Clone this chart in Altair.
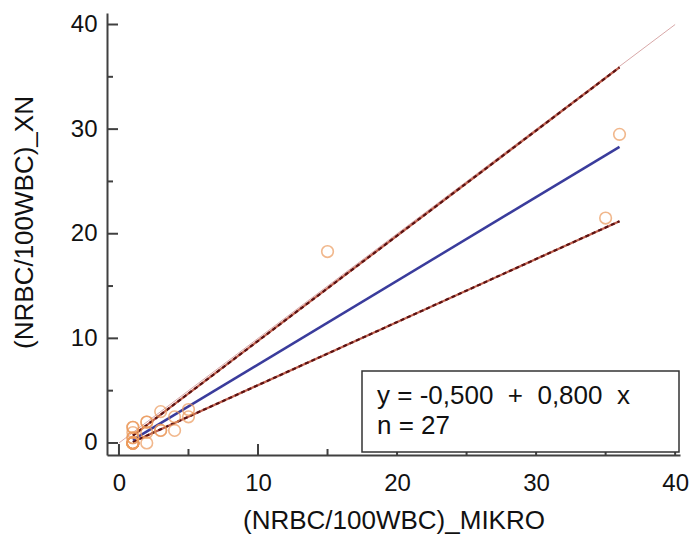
import altair as alt
import pandas as pd

# ---- data ----
pt_x = [1, 1, 1, 1, 1, 1, 1, 1, 1, 1, 1, 1, 1, 2, 2, 2, 2, 3, 3, 3, 4, 4, 5, 5, 15, 35, 36]
pt_y = [0, 0, 0, 0, 0, 0, 0, 0, 0.5, 0.5, 1.5, 1.5, 1.0, 0, 1.0, 2.0, 2.0, 1.2, 1.2, 3.0, 1.2, 2.5, 2.5, 3.2, 18.3, 21.5, 29.5]

fit_x = [1, 36]
fit_y = [0.3, 28.3]
upper_y = [0.7, 35.9]
lower_y = [0.1, 21.2]
ident_x = [0, 40]
ident_y = [0, 40]

major_ticks = [0, 10, 20, 30, 40]
minor_ticks = [5, 15, 25, 35]

NB = "\u00a0"
eq_line1 = "y = -0,500 " + NB + "+ " + NB + "0,800 " + NB + "x"
eq_line2 = "n = 27"

FONT = "Liberation Sans"
FS = 24      # tick labels
FT = 26      # titles and box text
W, H = 573, 442

xs = alt.Scale(domain=[-0.86, 40.35], nice=False, zero=False)
ys = alt.Scale(domain=[-1.15, 41.1], nice=False, zero=False)

pts = pd.DataFrame({"x": pt_x, "y": pt_y})
fit = pd.DataFrame({"x": fit_x, "y": fit_y})
up = pd.DataFrame({"x": fit_x, "y": upper_y})
lo = pd.DataFrame({"x": fit_x, "y": lower_y})
ci = pd.concat([up.assign(s="u"), lo.assign(s="l")])
ident = pd.DataFrame({"x": ident_x, "y": ident_y})
maj = pd.DataFrame({"v": major_ticks})
mino = pd.DataFrame({"v": minor_ticks})
one = pd.DataFrame({"a": [0]})

X = alt.X("x:Q", scale=xs, axis=alt.Axis(
    values=major_ticks, title="(NRBC/100WBC)_MIKRO", grid=False, ticks=False, tickSize=0,
    domainColor="#404040", domainWidth=2, labelFont=FONT, labelFontSize=FS, labelColor="#111",
    labelPadding=16, labelFlush=False, titleFont=FONT, titleFontSize=FT, titleFontWeight="normal",
    titleColor="#111", titleY=65, titleBaseline="middle"))
Y = alt.Y("y:Q", scale=ys, axis=alt.Axis(
    values=major_ticks, title="(NRBC/100WBC)_XN", grid=False, ticks=False, tickSize=0,
    domainColor="#404040", domainWidth=2, labelFont=FONT, labelFontSize=FS, labelColor="#111",
    labelPadding=10, labelFlush=False, titleFont=FONT, titleFontSize=FT, titleFontWeight="normal",
    titleColor="#111", titleX=-83, titleY=209, titleBaseline="middle"))

base_axes = alt.Chart(ident).mark_line(color="#D8A8A8", strokeWidth=1).encode(x=X, y=Y)

ci_solid = alt.Chart(ci).mark_line(color="#C0604E", strokeWidth=2.2).encode(
    x=alt.X("x:Q", scale=xs), y=alt.Y("y:Q", scale=ys), detail="s:N")
ci_dash = alt.Chart(ci).mark_line(color="#5A1212", strokeWidth=2.2, strokeDash=[4, 3]).encode(
    x=alt.X("x:Q", scale=xs), y=alt.Y("y:Q", scale=ys), detail="s:N")
fit_line = alt.Chart(fit).mark_line(color="#3A3C9C", strokeWidth=2.5).encode(
    x=alt.X("x:Q", scale=xs), y=alt.Y("y:Q", scale=ys))
points = alt.Chart(pts).mark_point(shape="circle", filled=False, color="#EC9A5C",
                                   strokeWidth=1.6, size=135).encode(
    x=alt.X("x:Q", scale=xs), y=alt.Y("y:Q", scale=ys))

xt_major = alt.Chart(maj).mark_rule(color="#404040", strokeWidth=2).encode(
    x=alt.X("v:Q", scale=xs), y=alt.value(H), y2=alt.value(H - 11))
xt_minor = alt.Chart(mino).mark_rule(color="#404040", strokeWidth=2).encode(
    x=alt.X("v:Q", scale=xs), y=alt.value(H), y2=alt.value(H - 6))
yt_major = alt.Chart(maj).mark_rule(color="#404040", strokeWidth=2).encode(
    y=alt.Y("v:Q", scale=ys), x=alt.value(0), x2=alt.value(11))
yt_minor = alt.Chart(mino).mark_rule(color="#404040", strokeWidth=2).encode(
    y=alt.Y("v:Q", scale=ys), x=alt.value(0), x2=alt.value(6))

box = alt.Chart(one).mark_rect(fill="white", stroke="#333", strokeWidth=1.5).encode(
    x=alt.value(255), x2=alt.value(572), y=alt.value(358), y2=alt.value(439))

label1 = alt.Chart(one).mark_text(align="left", baseline="middle", font=FONT,
                                   fontSize=FT, color="#111").encode(
    x=alt.value(270), y=alt.value(383), text=alt.value(eq_line1))
label2 = alt.Chart(one).mark_text(align="left", baseline="middle", font=FONT,
                                   fontSize=FT, color="#111").encode(
    x=alt.value(270), y=alt.value(413), text=alt.value(eq_line2))

chart = alt.layer(
    base_axes, ci_solid, ci_dash, fit_line, points,
    xt_major, xt_minor, yt_major, yt_minor, box, label1, label2
).properties(
    width=W, height=H,
    autosize=alt.AutoSizeParams(type="none"),
    padding={"left": 107, "top": 13, "right": 10, "bottom": 79},
    background="white",
).configure_view(stroke=None)

chart.save("out.html", embed_options={"renderer": "svg", "actions": False})
